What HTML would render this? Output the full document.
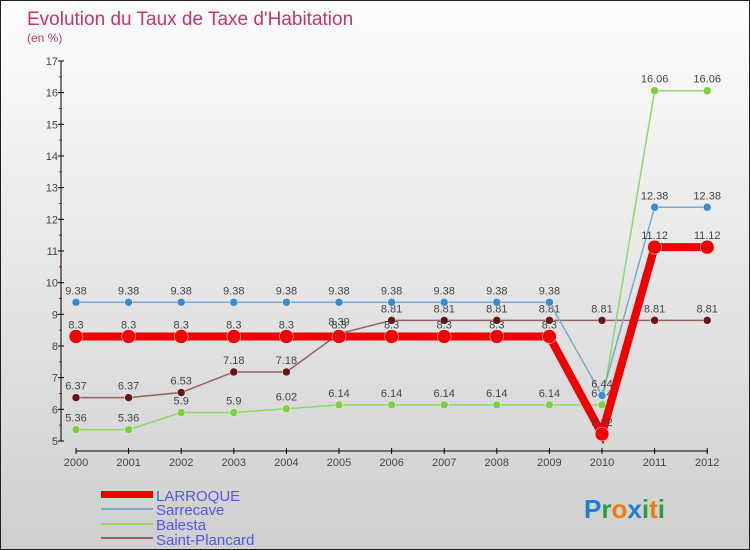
<!DOCTYPE html>
<html><head><meta charset="utf-8"><style>
body{margin:0;}
#wrap{width:750px;height:550px;position:relative;box-sizing:border-box;border:1px solid #222;background:linear-gradient(#fdfdfd,#cfcfcf);font-family:"Liberation Sans",sans-serif;overflow:hidden}
text{font-family:"Liberation Sans",sans-serif}
</style></head><body>
<div id="wrap">
<svg id="svg" width="750" height="550">
<text x="26" y="24" font-size="19" fill="#c8336a">Evolution du Taux de Taxe d'Habitation</text>
<text x="26" y="41" font-size="12" fill="#c8336a">(en %)</text>
<g id="axes"></g><g id="series"></g>
<g>
<rect x="100" y="490" width="52" height="7" fill="#e00"/>
<text x="155" y="500" font-size="15" fill="#5555ee">LARROQUE</text>
<rect x="100" y="507" width="52" height="2" fill="#7aa9d0"/>
<text x="155" y="514" font-size="15" fill="#5555ee">Sarrecave</text>
<rect x="100" y="522" width="52" height="2" fill="#8fd76a"/>
<text x="155" y="529" font-size="15" fill="#5555ee">Balesta</text>
<rect x="100" y="536" width="52" height="2" fill="#946060"/>
<text x="155" y="544" font-size="15" fill="#5555ee">Saint-Plancard</text>
</g>
<g font-size="26" font-weight="bold">
<text x="583" y="517"><tspan fill="#1f7fd0">P</tspan><tspan fill="#2aa040">r</tspan><tspan fill="#f07a10">o</tspan><tspan fill="#1f7fd0">x</tspan><tspan fill="#2aa040">i</tspan><tspan fill="#f07a10">t</tspan><tspan fill="#2aa040">i</tspan></text>
</g>
</svg>
</div>
<script>
const years=[2000,2001,2002,2003,2004,2005,2006,2007,2008,2009,2010,2011,2012];
const yTicks=[5,6,7,8,9,10,11,12,13,14,15,16,17];
const larroque=[8.3,8.3,8.3,8.3,8.3,8.3,8.3,8.3,8.3,8.3,5.22,11.12,11.12];
const sarrecave=[9.38,9.38,9.38,9.38,9.38,9.38,9.38,9.38,9.38,9.38,6.44,12.38,12.38];
const balesta=[5.36,5.36,5.9,5.9,6.02,6.14,6.14,6.14,6.14,6.14,6.14,16.06,16.06];
const plancard=[6.37,6.37,6.53,7.18,7.18,8.39,8.81,8.81,8.81,8.81,8.81,8.81,8.81];
const NS="http://www.w3.org/2000/svg";
const X=i=>75+i*52.6, Y=v=>440-(v-5)*31.67;
function mk(t,a,p){const e=document.createElementNS(NS,t);for(const k in a)e.setAttribute(k,a[k]);p.appendChild(e);return e;}
const ax=document.getElementById('axes');
let l=mk('line',{x1:60,y1:60,x2:60,y2:440,stroke:'#000'},ax);


l=mk('line',{x1:75,y1:450,x2:707,y2:450,stroke:'#000'},ax);


yTicks.forEach(v=>{
 mk('line',{x1:57,x2:63,y1:Y(v),y2:Y(v),stroke:'#000'},ax);
 if(v<17)mk('line',{x1:58,x2:61,y1:Y(v+0.5),y2:Y(v+0.5),stroke:'#e00'},ax);
 const t=mk('text',{x:57,y:Y(v)+4,'font-size':11,fill:'#444','text-anchor':'end'},ax);t.textContent=v;
 
 
});
years.forEach((yr,i)=>{
 mk('line',{x1:X(i),x2:X(i),y1:447,y2:453,stroke:'#000'},ax);
 const t=mk('text',{x:X(i),y:465,'font-size':11,fill:'#444','text-anchor':'middle'},ax);t.textContent=yr;
 
 
});
const sg=document.getElementById('series');
function series(name,vals,color,w,r,dot){
 const g=mk('g',{},sg);
 
 
 mk('polyline',{points:vals.map((v,i)=>X(i)+','+Y(v)).join(' '),fill:'none',stroke:color,'stroke-width':w},g);
 vals.forEach((v,i)=>{
  const c=mk('circle',{cx:X(i),cy:Y(v),r:r,fill:dot,stroke:'#fff','stroke-width':0.5},g);
  
  
  const t=mk('text',{x:X(i),y:Y(v)-8,'font-size':11,fill:'#444','text-anchor':'middle'},g);t.textContent=v;
  
  
 });
}
series('saint-plancard',plancard,'#946060',1.5,4,'#6a1515');
series('balesta',balesta,'#8fd76a',1.5,4,'#7ed03d');
series('sarrecave',sarrecave,'#7aa9d0',1.5,4,'#3a8ccc');
series('larroque',larroque,'#e00',8,7,'#e00');
</script>
</body></html>
